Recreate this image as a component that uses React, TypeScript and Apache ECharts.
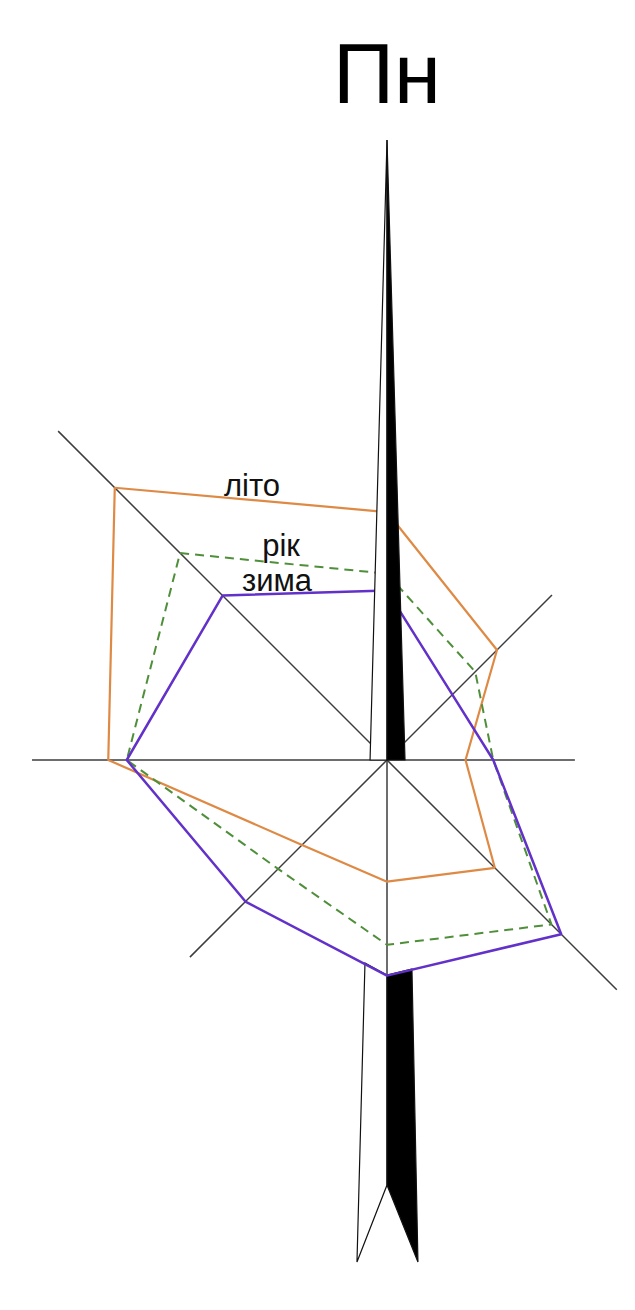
import React, { useEffect, useRef } from "react";
import * as echarts from "echarts";

// Wind rose (роза вітрів), values in % of cases per direction
const DIRECTIONS = ["Пн", "ПнСх", "Сх", "ПдСх", "Пд", "ПдЗх", "Зх", "ПнЗх"];
const ANGLES = [0, 45, 90, 135, 180, 225, 270, 315];
const SUMMER = [16.1, 10.1, 5.1, 9.9, 7.9, 7.8, 18.1, 25.0]; // літо
const WINTER = [11.0, 6.0, 6.9, 16.0, 14.0, 13.0, 16.9, 15.1]; // зима
const YEAR = [12.1, 8.1, 6.9, 15.1, 12.0, 10.0, 16.9, 19.0]; // рік
const AXIS_LENGTHS = [0, 15.15, 12.2, 21.1, 14.0, 18.1, 23.05, 30.2];
const SERIES_NAMES = ["літо", "рік", "зима"];

// north-arrow shape in radius units relative to the centre (decoration)
const ARROW_UP_WHITE = [[0, -40.26], [-1.1, 0], [0, 0]];
const ARROW_UP_BLACK = [[0, -40.26], [0, 0], [1.17, 0]];
const ARROW_DOWN_WHITE = [[-1.43, 13.18], [-1.95, 32.6], [0, 27.6], [0, 13.96]];
const ARROW_DOWN_BLACK = [[0, 13.96], [1.62, 13.57], [2.01, 32.6], [0, 27.6]];

const CX = 387;
const CY = 760;
const PX_PER_UNIT = 15.4;
const R_MAX = 45;
const FONT = "'Liberation Sans', Arial, sans-serif";

function ring(values: number[]) {
  const pts = values.map((v, i) => [v, ANGLES[i]]);
  pts.push([values[0], 360]);
  return pts;
}

function arrowSeries(name: string, shapes: number[][][], fills: string[], z: number) {
  return {
    type: "custom",
    name,
    coordinateSystem: "polar",
    data: [[0, 0]],
    clip: false,
    silent: true,
    z,
    renderItem: (_params: any, api: any) => {
      const c = api.coord([0, 0]);
      const u = api.coord([1, 0]);
      const k = c[1] - u[1];
      const map = (pts: number[][]) => pts.map((p) => [c[0] + p[0] * k, c[1] + p[1] * k]);
      return {
        type: "group",
        children: shapes.map((s, i) => ({
          type: "polygon",
          shape: { points: map(s) },
          style: { fill: fills[i], stroke: "#111", lineWidth: 1.2, lineJoin: "miter" },
        })),
      };
    },
  };
}

function label(text: string, x: number, y: number, size: number) {
  return {
    type: "text",
    x,
    y,
    z: 10,
    style: {
      text,
      fontSize: size,
      fontFamily: FONT,
      fill: "#111",
      align: "center",
      verticalAlign: "middle",
    },
  };
}

export default function App() {
  const ref = useRef<HTMLDivElement>(null);
  useEffect(() => {
    document.body.style.margin = "0";
    if (!ref.current) return;
    const chart = echarts.init(ref.current, undefined, { renderer: "svg" });

    const axisSeries = AXIS_LENGTHS.map((len, i) => ({
      type: "line",
      name: "axis-" + DIRECTIONS[i],
      coordinateSystem: "polar",
      data: [
        [0, ANGLES[i]],
        [len, ANGLES[i]],
      ],
      symbol: "none",
      silent: true,
      z: 1,
      lineStyle: { color: "#3c3c3c", width: 1.5 },
    }));

    const option: any = {
      animation: false,
      backgroundColor: "#ffffff",
      polar: { center: [CX, CY], radius: R_MAX * PX_PER_UNIT },
      angleAxis: {
        type: "value",
        min: 0,
        max: 360,
        startAngle: 90,
        clockwise: true,
        show: false,
      },
      radiusAxis: { type: "value", min: 0, max: R_MAX, show: false },
      series: [
        ...axisSeries,
        arrowSeries("arrow-tail", [ARROW_DOWN_WHITE, ARROW_DOWN_BLACK], ["#ffffff", "#000000"], 1),
        {
          type: "line",
          name: SERIES_NAMES[0],
          coordinateSystem: "polar",
          data: ring(SUMMER),
          symbol: "none",
          z: 2,
          lineStyle: { color: "#de8a45", width: 2.2 },
        },
        {
          type: "line",
          name: SERIES_NAMES[1],
          coordinateSystem: "polar",
          data: ring(YEAR),
          symbol: "none",
          z: 2,
          lineStyle: { color: "#4f8f3a", width: 2, type: [9, 6] },
        },
        {
          type: "line",
          name: SERIES_NAMES[2],
          coordinateSystem: "polar",
          data: ring(WINTER),
          symbol: "none",
          z: 2,
          lineStyle: { color: "#6231c9", width: 2.5 },
        },
        arrowSeries("arrow-head", [ARROW_UP_WHITE, ARROW_UP_BLACK], ["#ffffff", "#000000"], 5),
      ],
      graphic: [
        {
          type: "text",
          x: 387,
          y: 73,
          z: 10,
          style: {
            text: "Пн",
            fontSize: 85,
            fontFamily: FONT,
            fill: "#000",
            align: "center",
            verticalAlign: "middle",
          },
        },
        label(SERIES_NAMES[0], 252, 485, 31),
        label(SERIES_NAMES[1], 281, 545, 31),
        label(SERIES_NAMES[2], 277, 580, 31),
      ],
    };
    chart.setOption(option);
    return () => chart.dispose();
  }, []);
  return <div ref={ref} style={{ width: 635, height: 1310 }} />;
}
